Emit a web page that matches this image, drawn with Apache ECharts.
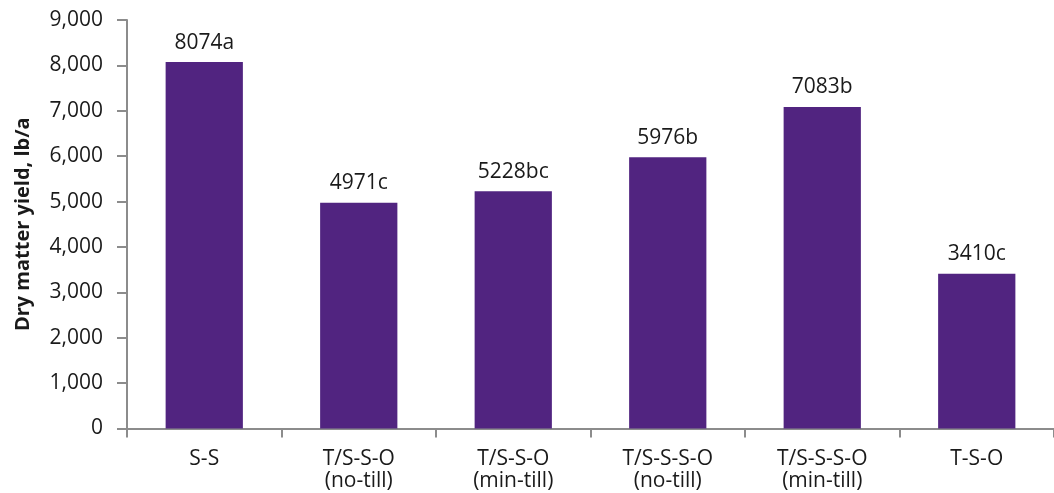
<!DOCTYPE html>
<html><head><meta charset="utf-8">
<script src="https://cdn.jsdelivr.net/npm/echarts@6/dist/echarts.min.js"></script>
<style>html,body{margin:0;padding:0;background:#fff}#c{width:1054px;height:493px}</style>
</head><body><div id="c"></div>
<script>
const categories = ['S-S', 'T/S-S-O\n(no-till)', 'T/S-S-O\n(min-till)', 'T/S-S-S-O\n(no-till)', 'T/S-S-S-O\n(min-till)', 'T-S-O'];
const values = [8074, 4971, 5228, 5976, 7083, 3410];
const letters = ['a', 'c', 'bc', 'b', 'b', 'c'];
const yTitle = 'Dry matter yield, lb/a';

const chart = echarts.init(document.getElementById('c'), null, {renderer: 'canvas'});
const font = '"Open Sans", "Noto Sans", sans-serif';
chart.setOption({
  animation: false,
  grid: {left: 127, top: 20, width: 934, height: 408.5, containLabel: false},
  xAxis: {
    type: 'category', data: categories,
    axisLine: {lineStyle: {color: '#8c8c8c', width: 2}},
    axisTick: {show: true, length: 9, lineStyle: {color: '#8c8c8c', width: 2}},
    axisLabel: {color: '#1a1a1a', fontFamily: font, fontSize: 21, lineHeight: 22, margin: 20}
  },
  yAxis: {
    type: 'value', min: 0, max: 9000, interval: 1000,
    name: yTitle, nameLocation: 'middle', nameGap: 94,
    nameTextStyle: {color: '#1a1a1a', fontFamily: font, fontSize: 20, fontWeight: 'bold'},
    axisLine: {show: true, lineStyle: {color: '#8c8c8c', width: 2}},
    axisTick: {show: true, length: 10, lineStyle: {color: '#8c8c8c', width: 2}},
    splitLine: {show: false},
    axisLabel: {color: '#1a1a1a', fontFamily: font, fontSize: 21, margin: 24,
      formatter: v => v.toLocaleString('en-US')}
  },
  series: [{
    type: 'bar', data: values, barWidth: '50%',
    itemStyle: {color: '#512480'},
    label: {show: true, position: 'top', distance: 9, color: '#1a1a1a', fontFamily: font, fontSize: 21,
      formatter: p => p.value + letters[p.dataIndex]}
  }]
});
</script></body></html>
